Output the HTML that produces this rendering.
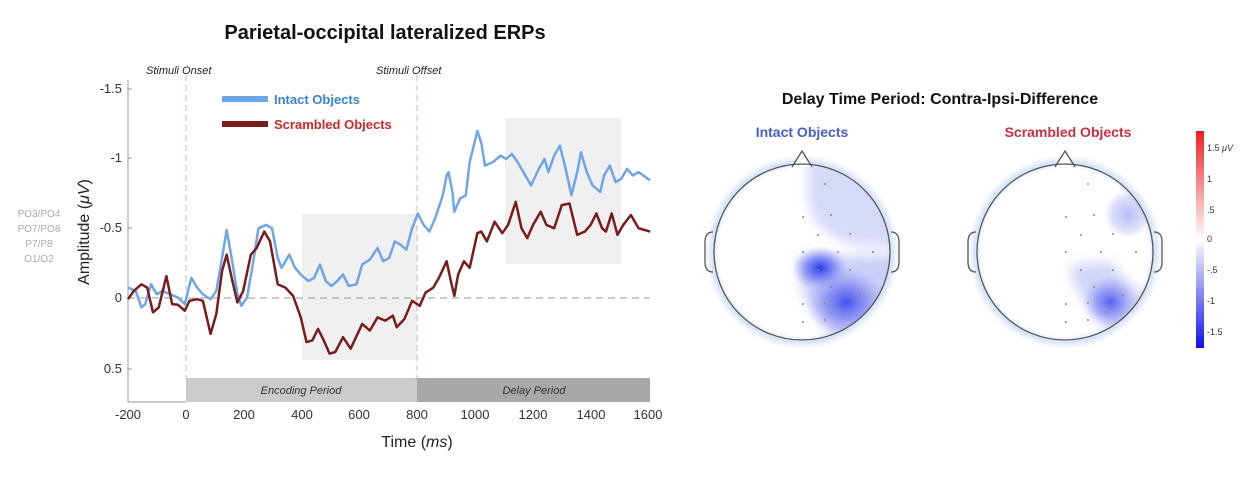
<!DOCTYPE html>
<html><head><meta charset="utf-8"><style>
html,body{margin:0;padding:0;background:#fff;}
svg{display:block;font-family:"Liberation Sans",sans-serif;}
</style></head><body>
<svg width="1246" height="478" viewBox="0 0 1246 478" xmlns="http://www.w3.org/2000/svg">
<defs>
<filter id="bl" x="-20%" y="-20%" width="140%" height="140%"><feGaussianBlur stdDeviation="6"/></filter>
<radialGradient id="b1"><stop offset="0" stop-color="#2233ee" stop-opacity="0.95"/><stop offset="0.5" stop-color="#5560f0" stop-opacity="0.6"/><stop offset="1" stop-color="#8890f5" stop-opacity="0"/></radialGradient>
<radialGradient id="b2"><stop offset="0" stop-color="#7078ee" stop-opacity="0.5"/><stop offset="0.7" stop-color="#9098f2" stop-opacity="0.3"/><stop offset="1" stop-color="#a0a8f5" stop-opacity="0"/></radialGradient>
<radialGradient id="halo"><stop offset="0.85" stop-color="#d6e4f8" stop-opacity="0"/><stop offset="0.92" stop-color="#d6e4f8" stop-opacity="1"/><stop offset="1" stop-color="#eef3fb" stop-opacity="0"/></radialGradient>
<linearGradient id="cb" x1="0" y1="0" x2="0" y2="1"><stop offset="0" stop-color="#ee2020"/><stop offset="0.5" stop-color="#ffffff"/><stop offset="1" stop-color="#1010ee"/></linearGradient>
<clipPath id="c1"><circle cx="802" cy="252" r="88"/></clipPath>
<clipPath id="c2"><circle cx="1065" cy="252" r="88"/></clipPath>
</defs>
<text x="385" y="39" text-anchor="middle" font-size="20" font-weight="bold" fill="#111">Parietal-occipital lateralized ERPs</text>
<g font-size="10" fill="#aaa" text-anchor="middle"><text x="39" y="217">PO3/PO4</text><text x="39" y="232">PO7/PO8</text><text x="39" y="247">P7/P8</text><text x="39" y="262">O1/O2</text></g>
<rect x="302" y="214" width="115" height="146" fill="#f0f0f0"/>
<rect x="505" y="118" width="116" height="146" fill="#f0f0f0"/>
<rect x="186" y="378" width="231" height="24" fill="#cbcbcb"/>
<rect x="417" y="378" width="233" height="24" fill="#a9a7a7"/>
<g font-size="11" font-style="italic" fill="#333" text-anchor="middle"><text x="301" y="394">Encoding Period</text><text x="534" y="394">Delay Period</text></g>
<line x1="128" y1="80" x2="128" y2="402" stroke="#999" stroke-width="1"/>
<line x1="128" y1="402" x2="186" y2="402" stroke="#999"/>
<g stroke="#999"><line x1="128" y1="89" x2="132" y2="89"/><line x1="128" y1="158" x2="132" y2="158"/><line x1="128" y1="228" x2="132" y2="228"/><line x1="128" y1="298" x2="132" y2="298"/><line x1="128" y1="369" x2="132" y2="369"/></g>
<line x1="186" y1="75" x2="186" y2="378" stroke="#e0b0b0" stroke-dasharray="6,4"/>
<line x1="417" y1="75" x2="417" y2="378" stroke="#e0b0b0" stroke-dasharray="6,4"/>
<line x1="128" y1="298" x2="650" y2="298" stroke="#999" stroke-dasharray="7,5"/>
<g font-size="13" fill="#333" text-anchor="end"><text x="122" y="93">-1.5</text><text x="122" y="162">-1</text><text x="122" y="232">-0.5</text><text x="122" y="302">0</text><text x="122" y="373">0.5</text></g>
<g font-size="13" fill="#333" text-anchor="middle"><text x="128" y="419">-200</text><text x="186" y="419">0</text><text x="244" y="419">200</text><text x="302" y="419">400</text><text x="359" y="419">600</text><text x="417" y="419">800</text><text x="475" y="419">1000</text><text x="533" y="419">1200</text><text x="591" y="419">1400</text><text x="648" y="419">1600</text></g>
<text x="417" y="447" text-anchor="middle" font-size="16" fill="#222">Time (<tspan font-style="italic">ms</tspan>)</text>
<text transform="translate(89,232) rotate(-90)" text-anchor="middle" font-size="16" fill="#222">Amplitude (<tspan font-style="italic">μV</tspan>)</text>
<g font-size="11" font-style="italic" fill="#222"><text x="146" y="74">Stimuli Onset</text><text x="376" y="74">Stimuli Offset</text></g>
<line x1="222" y1="99" x2="268" y2="99" stroke="#6ea6e8" stroke-width="6"/>
<line x1="222" y1="124" x2="268" y2="124" stroke="#7a1c1c" stroke-width="6"/>
<text x="274" y="104" font-size="13" font-weight="bold" fill="#3a82d8">Intact Objects</text>
<text x="274" y="129" font-size="13" font-weight="bold" fill="#cc2a2a">Scrambled Objects</text>
<g transform="matrix(0.3839 0 0 0.33 58.9 59.94)" fill="none" stroke-linejoin="round">
<polyline vector-effect="non-scaling-stroke" stroke="#6ea6e8" stroke-width="2.5" points="180,690 200,700 215,750 225,740 240,680 255,710 270,700 290,710 310,720 328,740 345,660 360,690 375,710 395,725 410,700 425,600 437,515 450,600 465,710 475,745 490,720 505,620 520,510 540,500 555,510 570,600 580,630 600,590 615,630 630,650 650,670 665,660 680,620 695,670 710,685 725,670 740,650 755,685 775,680 790,620 810,605 830,570 845,610 860,600 875,550 890,560 905,575 920,510 935,465 950,500 965,520 980,480 1000,410 1010,350 1015,340 1025,400 1030,460 1045,420 1060,410 1070,310 1090,215 1100,250 1110,320 1130,310 1150,290 1165,300 1180,285 1195,310 1210,340 1230,380 1250,330 1265,300 1275,340 1290,290 1305,260 1320,330 1335,410 1350,340 1360,280 1375,340 1390,380 1410,400 1420,350 1435,320 1450,370 1465,360 1480,330 1495,350 1510,340 1540,365"/>
<polyline vector-effect="non-scaling-stroke" stroke="#7a1c1c" stroke-width="2.5" points="180,725 195,700 215,680 230,690 245,765 260,750 280,655 295,740 310,742 328,760 340,730 360,725 375,730 395,830 410,770 425,640 437,590 450,660 465,735 480,700 500,590 515,570 535,520 550,550 570,680 590,690 610,715 630,780 645,855 660,850 675,815 690,850 705,890 720,885 740,840 760,875 790,800 810,820 830,780 850,790 870,775 880,810 900,785 920,730 940,745 955,705 975,690 990,660 1010,610 1020,665 1030,715 1040,650 1055,610 1070,630 1090,525 1100,520 1115,550 1135,490 1155,525 1170,500 1190,430 1205,510 1220,540 1235,500 1255,460 1270,500 1290,510 1310,440 1330,435 1350,530 1370,520 1385,500 1400,465 1415,510 1425,520 1440,465 1455,530 1470,500 1490,470 1510,510 1540,520"/>
</g>
<text x="940" y="104" text-anchor="middle" font-size="16" font-weight="bold" fill="#111">Delay Time Period: Contra-Ipsi-Difference</text>
<text x="802" y="137" text-anchor="middle" font-size="14" font-weight="bold" fill="#4a5ec8">Intact Objects</text>
<text x="1068" y="137" text-anchor="middle" font-size="14" font-weight="bold" fill="#cc3040">Scrambled Objects</text>
<!-- head 1 -->
<circle cx="802" cy="252" r="98" fill="url(#halo)"/>
<g clip-path="url(#c1)">
<g filter="url(#bl)">
<path d="M808,160 L900,160 L900,245 Q850,250 832,235 Q812,225 808,200 Z" fill="#cdd0f7" opacity="0.8"/>
<path d="M800,258 L900,255 L900,330 L840,345 Q800,300 800,278 Z" fill="#c2c6f5" opacity="0.85"/>
</g>
<ellipse cx="820" cy="268" rx="28" ry="22" fill="url(#b1)"/>
<ellipse cx="846" cy="302" rx="40" ry="34" fill="url(#b1)" opacity="0.85"/>
</g>
<path d="M792,167 L802,151 L812,167" fill="#fff" stroke="#555" stroke-width="1.3"/>
<path d="M713,232 q-8,0 -8,10 v20 q0,10 8,10" fill="none" stroke="#555" stroke-width="1.3"/>
<path d="M891,232 q8,0 8,10 v20 q0,10 -8,10" fill="none" stroke="#555" stroke-width="1.3"/>
<circle cx="802" cy="252" r="88" fill="none" stroke="#555" stroke-width="1.3"/>
<g fill="#888"><circle cx="825" cy="184" r="1"/><circle cx="803" cy="217" r="1"/><circle cx="831" cy="215" r="1"/><circle cx="818" cy="235" r="1"/><circle cx="850" cy="234" r="1"/><circle cx="803" cy="252" r="1"/><circle cx="838" cy="252" r="1"/><circle cx="873" cy="252" r="1"/><circle cx="818" cy="270" r="1"/><circle cx="850" cy="270" r="1"/><circle cx="831" cy="287" r="1"/><circle cx="860" cy="295" r="1"/><circle cx="803" cy="304" r="1"/><circle cx="825" cy="303" r="1"/><circle cx="843" cy="312" r="1"/><circle cx="803" cy="322" r="1"/><circle cx="825" cy="320" r="1"/></g>
<!-- head 2 -->
<circle cx="1065" cy="252" r="98" fill="url(#halo)"/>
<g clip-path="url(#c2)">
<ellipse cx="1128" cy="214" rx="24" ry="24" fill="url(#b2)"/>
<g filter="url(#bl)"><path d="M1072,265 L1110,262 Q1130,285 1150,300 L1120,345 Q1082,300 1072,280 Z" fill="#c8ccf6" opacity="0.85"/></g>
<ellipse cx="1110" cy="302" rx="28" ry="26" fill="url(#b1)" opacity="0.75"/>
</g>
<path d="M1055,167 L1065,151 L1075,167" fill="#fff" stroke="#555" stroke-width="1.3"/>
<path d="M976,232 q-8,0 -8,10 v20 q0,10 8,10" fill="none" stroke="#555" stroke-width="1.3"/>
<path d="M1154,232 q8,0 8,10 v20 q0,10 -8,10" fill="none" stroke="#555" stroke-width="1.3"/>
<circle cx="1065" cy="252" r="88" fill="none" stroke="#555" stroke-width="1.3"/>
<g fill="#888"><circle cx="1088" cy="184" r="1"/><circle cx="1066" cy="217" r="1"/><circle cx="1094" cy="215" r="1"/><circle cx="1081" cy="235" r="1"/><circle cx="1113" cy="234" r="1"/><circle cx="1066" cy="252" r="1"/><circle cx="1101" cy="252" r="1"/><circle cx="1136" cy="252" r="1"/><circle cx="1081" cy="270" r="1"/><circle cx="1113" cy="270" r="1"/><circle cx="1094" cy="287" r="1"/><circle cx="1123" cy="295" r="1"/><circle cx="1066" cy="304" r="1"/><circle cx="1088" cy="303" r="1"/><circle cx="1106" cy="312" r="1"/><circle cx="1066" cy="322" r="1"/><circle cx="1088" cy="320" r="1"/></g>
<rect x="1196" y="131" width="8" height="217" fill="url(#cb)"/>
<g font-size="9" fill="#333"><text x="1207" y="151">1.5 <tspan font-style="italic">μV</tspan></text><text x="1207" y="182">1</text><text x="1207" y="213">.5</text><text x="1207" y="242">0</text><text x="1207" y="273">-.5</text><text x="1207" y="304">-1</text><text x="1207" y="335">-1.5</text></g>
</svg>
</body></html>
